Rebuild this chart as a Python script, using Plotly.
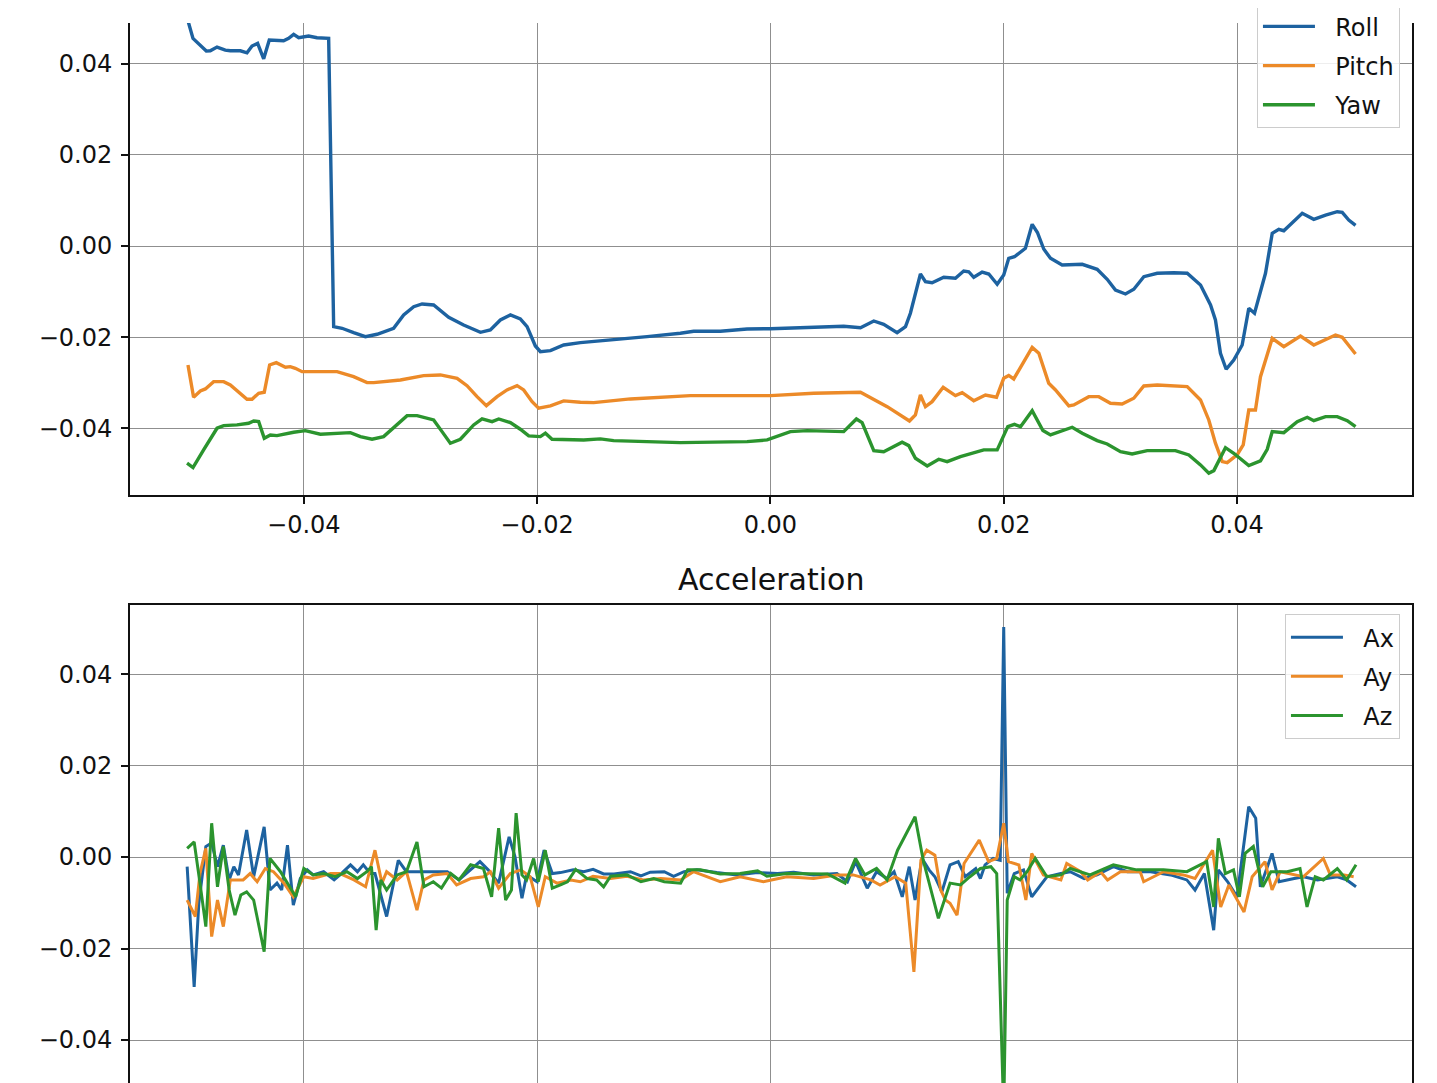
import plotly.graph_objects as go

# ---------------- Orientation (top panel) ----------------
roll_x = [-0.0500, -0.04950, -0.04836, -0.04802, -0.04744, -0.04673, -0.04630, -0.04544, -0.04487, -0.04444,
          -0.04396, -0.04344, -0.04296, -0.04230, -0.04173, -0.04130, -0.04087, -0.04044, -0.03959, -0.03887,
          -0.03787, -0.03744, -0.03672, -0.03573, -0.03472, -0.03372, -0.03230, -0.03144, -0.03058, -0.02986,
          -0.02887, -0.02758, -0.02630, -0.02486, -0.02401, -0.02315, -0.02229, -0.02144, -0.02086, -0.02015,
          -0.01972, -0.01886, -0.01772, -0.01629, -0.01344, -0.01057, -0.00772, -0.00658, -0.00429, -0.00200,
          0.0, 0.00229, 0.00457, 0.00628, 0.00772, 0.00886, 0.00971, 0.01086, 0.01158, 0.01200,
          0.01286, 0.01329, 0.01386, 0.01486, 0.01586, 0.01657, 0.01700, 0.01743, 0.01815, 0.01872,
          0.01944, 0.02000, 0.02043, 0.02092, 0.02186, 0.02244, 0.02289, 0.02343, 0.02401, 0.02501,
          0.02673, 0.02801, 0.02887, 0.02958, 0.03044, 0.03115, 0.03201, 0.03316, 0.03458, 0.03573,
          0.03687, 0.03773, 0.03815, 0.03858, 0.03907, 0.03972, 0.04044, 0.04101, 0.04150, 0.04244,
          0.04302, 0.04358, 0.04401, 0.04473, 0.04559, 0.04658, 0.04759, 0.04859, 0.04902, 0.04958,
          0.05016]
roll = [0.0500, 0.04552, 0.04274, 0.04281, 0.04362, 0.04296, 0.04281, 0.04281, 0.04237, 0.04384,
        0.04443, 0.04105, 0.04515, 0.04515, 0.04500, 0.04552, 0.04640, 0.04566, 0.04603, 0.04566,
        0.04552, -0.01769, -0.01804, -0.01900, -0.01988, -0.01935, -0.01804, -0.01512, -0.01330, -0.01271,
        -0.01293, -0.01563, -0.01732, -0.01892, -0.01841, -0.01622, -0.01512, -0.01600, -0.01769, -0.02192,
        -0.02317, -0.02295, -0.02170, -0.02119, -0.02060, -0.01988, -0.01913, -0.01870, -0.01870, -0.01819,
        -0.01813, -0.01791, -0.01760, -0.01760, -0.01791, -0.01644, -0.01716, -0.01900, -0.01769, -0.01475,
        -0.00614, -0.00782, -0.00804, -0.00686, -0.00708, -0.00548, -0.00564, -0.00686, -0.00570, -0.00614,
        -0.00839, -0.00636, -0.00270, -0.00235, -0.00050, 0.00476, 0.00296, -0.00066, -0.00270, -0.00416,
        -0.00401, -0.00511, -0.00730, -0.00964, -0.01052, -0.00949, -0.00673, -0.00598, -0.00585, -0.00598,
        -0.00855, -0.01293, -0.01622, -0.02352, -0.02702, -0.02499, -0.02170, -0.01365, -0.01475, -0.00598,
        0.00278, 0.00366, 0.00335, 0.00498, 0.00717, 0.00585, 0.00679, 0.00752, 0.00739, 0.00570,
        0.00454]

pitch_x = [-0.04993, -0.04945, -0.04887, -0.04844, -0.04773, -0.04687, -0.04630, -0.04487, -0.04444, -0.04387,
           -0.04339, -0.04293, -0.04236, -0.04158, -0.04116, -0.04073, -0.04015, -0.03715, -0.03573, -0.03458,
           -0.03401, -0.03286, -0.03172, -0.02973, -0.02829, -0.02686, -0.02601, -0.02515, -0.02435, -0.02343,
           -0.02258, -0.02172, -0.02115, -0.02043, -0.01987, -0.01886, -0.01772, -0.01629, -0.01515, -0.01200,
           -0.00686, 0.0, 0.00371, 0.00772, 0.01001, 0.01192, 0.01243, 0.01286, 0.01329, 0.01386,
           0.01481, 0.01586, 0.01644, 0.01743, 0.01843, 0.01938, 0.02000, 0.02043, 0.02086, 0.02244,
           0.02301, 0.02386, 0.02444, 0.02558, 0.02601, 0.02729, 0.02815, 0.02915, 0.03015, 0.03115,
           0.03201, 0.03316, 0.03573, 0.03687, 0.03758, 0.03815, 0.03873, 0.03916, 0.04001, 0.04053,
           0.04101, 0.04158, 0.04201, 0.04302, 0.04401, 0.04544, 0.04658, 0.04844, 0.04902, 0.05016]
pitch = [-0.02608, -0.03316, -0.03178, -0.03134, -0.02974, -0.02974, -0.03047, -0.03360, -0.03360, -0.03228,
         -0.03207, -0.02608, -0.02558, -0.02659, -0.02645, -0.02681, -0.02755, -0.02755, -0.02865, -0.02996,
         -0.02996, -0.02965, -0.02937, -0.02843, -0.02827, -0.02900, -0.03062, -0.03303, -0.03500, -0.03303,
         -0.03156, -0.03062, -0.03156, -0.03413, -0.03557, -0.03507, -0.03397, -0.03426, -0.03434, -0.03353,
         -0.03281, -0.03281, -0.03228, -0.03207, -0.03522, -0.03836, -0.03704, -0.03266, -0.03522, -0.03413,
         -0.03097, -0.03281, -0.03215, -0.03391, -0.03266, -0.03316, -0.02900, -0.02838, -0.02915, -0.02225,
         -0.02352, -0.03009, -0.03156, -0.03507, -0.03485, -0.03303, -0.03303, -0.03448, -0.03463, -0.03338,
         -0.03069, -0.03047, -0.03084, -0.03375, -0.03814, -0.04324, -0.04728, -0.04750, -0.04581, -0.04362,
         -0.03595, -0.03595, -0.02865, -0.02023, -0.02207, -0.01973, -0.02170, -0.01951, -0.02001, -0.02367]

yaw_x = [-0.05001, -0.04950, -0.04859, -0.04744, -0.04687, -0.04573, -0.04473, -0.04430, -0.04387, -0.04339,
         -0.04287, -0.04230, -0.04087, -0.03987, -0.03858, -0.03601, -0.03515, -0.03415, -0.03316, -0.03201,
         -0.03115, -0.03029, -0.02887, -0.02815, -0.02744, -0.02658, -0.02544, -0.02472, -0.02386, -0.02329,
         -0.02229, -0.02144, -0.02072, -0.01972, -0.01929, -0.01872, -0.01715, -0.01601, -0.01458, -0.01344,
         -0.00772, -0.00200, -0.00028, 0.00171, 0.00315, 0.00628, 0.00737, 0.00786, 0.00886, 0.00971,
         0.01129, 0.01186, 0.01243, 0.01344, 0.01443, 0.01515, 0.01629, 0.01829, 0.01944, 0.02035,
         0.02092, 0.02144, 0.02244, 0.02336, 0.02401, 0.02587, 0.02673, 0.02801, 0.02887, 0.03001,
         0.03101, 0.03230, 0.03472, 0.03587, 0.03687, 0.03758, 0.03801, 0.03901, 0.03972, 0.04101,
         0.04201, 0.04259, 0.04302, 0.04401, 0.04516, 0.04602, 0.04658, 0.04759, 0.04859, 0.04945,
         0.05016]
yaw = [-0.04763, -0.04859, -0.04471, -0.03996, -0.03939, -0.03923, -0.03886, -0.03836, -0.03851, -0.04215,
       -0.04143, -0.04158, -0.04083, -0.04048, -0.04127, -0.04092, -0.04180, -0.04237, -0.04180, -0.03923,
       -0.03719, -0.03719, -0.03814, -0.04070, -0.04324, -0.04237, -0.03923, -0.03792, -0.03851, -0.03792,
       -0.03873, -0.04018, -0.04164, -0.04180, -0.04105, -0.04237, -0.04237, -0.04252, -0.04230, -0.04267,
       -0.04311, -0.04289, -0.04252, -0.04070, -0.04048, -0.04070, -0.03792, -0.03873, -0.04487, -0.04509,
       -0.04303, -0.04377, -0.04653, -0.04822, -0.04675, -0.04728, -0.04618, -0.04471, -0.04471, -0.03961,
       -0.03912, -0.03961, -0.03610, -0.04044, -0.04143, -0.03974, -0.04105, -0.04267, -0.04340, -0.04509,
       -0.04559, -0.04487, -0.04487, -0.04581, -0.04800, -0.04982, -0.04925, -0.04421, -0.04544, -0.04815,
       -0.04712, -0.04456, -0.04070, -0.04092, -0.03851, -0.03755, -0.03829, -0.03741, -0.03741, -0.03829,
       -0.03961]

# ---------------- Acceleration (bottom panel) ----------------
ax_x = [-0.0500, -0.0494, -0.0490, -0.0484, -0.0479, -0.0474, -0.0469, -0.0464, -0.0460, -0.0456,
        -0.0449, -0.0443, -0.0434, -0.0429, -0.0423, -0.0419, -0.0414, -0.0409, -0.0403, -0.0397,
        -0.0392, -0.0383, -0.0374, -0.0369, -0.0360, -0.0354, -0.0349, -0.0343, -0.0339, -0.0329,
        -0.0319, -0.0312, -0.0286, -0.0277, -0.0267, -0.0257, -0.0249, -0.0242, -0.0233, -0.0224,
        -0.0219, -0.0213, -0.0209, -0.0200, -0.0194, -0.0187, -0.0180, -0.0169, -0.0160, -0.0152,
        -0.0143, -0.0134, -0.0120, -0.0111, -0.0103, -0.0091, -0.0083, -0.0074, -0.0063, -0.0046,
        -0.0029, -0.0011, 0.0006, 0.0020, 0.0037, 0.0057, 0.0066, 0.0073, 0.0083, 0.0091,
        0.0100, 0.0106, 0.0113, 0.0119, 0.0124, 0.0130, 0.0136, 0.0141, 0.0147, 0.0154,
        0.0161, 0.0167, 0.0176, 0.0180, 0.0184, 0.0191, 0.0197, 0.0200, 0.0203, 0.0209,
        0.0217, 0.0224, 0.0237, 0.0249, 0.0257, 0.0269, 0.0280, 0.0294, 0.0306, 0.0326,
        0.0343, 0.0357, 0.0364, 0.0372, 0.0380, 0.0384, 0.0392, 0.0400, 0.0410, 0.0416,
        0.0420, 0.0430, 0.0436, 0.0449, 0.0457, 0.0469, 0.0486, 0.0494, 0.0502]
ax_vals = [-0.0021, -0.0284, -0.0101, 0.0023, 0.0031, -0.0021, 0.0026, -0.0050, -0.0021, -0.0039,
           0.0059, -0.0043, 0.0066, -0.0072, -0.0057, -0.0072, 0.0026, -0.0105, -0.0047, -0.0028,
           -0.0039, -0.0032, -0.0050, -0.0039, -0.0017, -0.0032, -0.0017, -0.0036, -0.0036, -0.0130,
           -0.0007, -0.0032, -0.0032, -0.0032, -0.0050, -0.0028, -0.0010, -0.0028, -0.0057, 0.0044,
           0.0001, -0.0090, -0.0039, -0.0054, 0.0015, -0.0036, -0.0034, -0.0028, -0.0032, -0.0027,
           -0.0037, -0.0037, -0.0032, -0.0041, -0.0033, -0.0032, -0.0042, -0.0032, -0.0028, -0.0034,
           -0.0039, -0.0034, -0.0036, -0.0033, -0.0039, -0.0036, -0.0054, -0.0010, -0.0068, -0.0032,
           -0.0047, -0.0032, -0.0087, -0.0021, -0.0094, -0.0003, -0.0028, -0.0043, -0.0076, -0.0017,
           -0.0010, -0.0043, -0.0025, -0.0047, -0.0017, -0.0003, -0.0007, 0.0503, -0.0079, -0.0036,
           -0.0028, -0.0087, -0.0043, -0.0036, -0.0032, -0.0047, -0.0039, -0.0021, -0.0032, -0.0032,
           -0.0039, -0.0050, -0.0072, -0.0036, -0.0160, -0.0028, -0.0054, -0.0087, 0.0110, 0.0085,
           -0.0065, 0.0008, -0.0054, -0.0047, -0.0043, -0.0050, -0.0043, -0.0050, -0.0065]

ay_x = [-0.0500, -0.0493, -0.0489, -0.0484, -0.0479, -0.0474, -0.0469, -0.0463, -0.0456, -0.0452,
        -0.0446, -0.0440, -0.0433, -0.0426, -0.0417, -0.0409, -0.0400, -0.0392, -0.0377, -0.0369,
        -0.0357, -0.0347, -0.0339, -0.0333, -0.0329, -0.0320, -0.0312, -0.0303, -0.0297, -0.0289,
        -0.0277, -0.0269, -0.0257, -0.0246, -0.0240, -0.0233, -0.0223, -0.0214, -0.0206, -0.0199,
        -0.0193, -0.0183, -0.0171, -0.0163, -0.0152, -0.0137, -0.0123, -0.0109, -0.0094, -0.0077,
        -0.0066, -0.0043, -0.0026, -0.0006, 0.0014, 0.0037, 0.0057, 0.0071, 0.0086, 0.0094,
        0.0107, 0.0116, 0.0123, 0.0129, 0.0134, 0.0141, 0.0146, 0.0150, 0.0154, 0.0160,
        0.0166, 0.0179, 0.0187, 0.0194, 0.0200, 0.0204, 0.0213, 0.0219, 0.0224, 0.0229,
        0.0234, 0.0249, 0.0254, 0.0266, 0.0272, 0.0283, 0.0289, 0.0300, 0.0317, 0.0320,
        0.0337, 0.0354, 0.0364, 0.0379, 0.0386, 0.0393, 0.0406, 0.0413, 0.0424, 0.0430,
        0.0437, 0.0457, 0.0466, 0.0474, 0.0480, 0.0492, 0.0500]
ay_vals = [-0.0094, -0.0130, -0.0036, 0.0019, -0.0174, -0.0094, -0.0152, -0.0050, -0.0050, -0.0050,
           -0.0036, -0.0054, -0.0025, -0.0032, -0.0057, -0.0087, -0.0043, -0.0047, -0.0036, -0.0036,
           -0.0050, -0.0065, 0.0015, -0.0057, -0.0032, -0.0050, -0.0032, -0.0116, -0.0050, -0.0039,
           -0.0036, -0.0061, -0.0047, -0.0043, -0.0032, -0.0068, -0.0036, -0.0028, -0.0043, -0.0109,
           -0.0043, -0.0057, -0.0050, -0.0054, -0.0042, -0.0047, -0.0042, -0.0050, -0.0047, -0.0050,
           -0.0032, -0.0054, -0.0043, -0.0054, -0.0043, -0.0047, -0.0039, -0.0039, -0.0050, -0.0061,
           -0.0043, -0.0057, -0.0251, -0.0007, 0.0015, 0.0004, -0.0072, -0.0094, -0.0101, -0.0127,
           -0.0014, 0.0037, -0.0010, -0.0003, 0.0074, -0.0010, -0.0017, -0.0094, 0.0008, -0.0017,
           -0.0039, -0.0050, -0.0014, -0.0032, -0.0050, -0.0032, -0.0050, -0.0032, -0.0032, -0.0054,
           -0.0032, -0.0039, -0.0047, 0.0015, -0.0109, -0.0061, -0.0120, -0.0043, -0.0010, -0.0072,
           -0.0032, -0.0043, -0.0021, -0.0003, -0.0039, -0.0039, -0.0043]

az_x = [-0.0500, -0.0494, -0.0489, -0.0484, -0.0479, -0.0474, -0.0469, -0.0464, -0.0459, -0.0454,
        -0.0449, -0.0443, -0.0434, -0.0429, -0.0420, -0.0412, -0.0407, -0.0400, -0.0392, -0.0383,
        -0.0373, -0.0363, -0.0354, -0.0346, -0.0342, -0.0338, -0.0334, -0.0329, -0.0320, -0.0312,
        -0.0303, -0.0297, -0.0289, -0.0282, -0.0274, -0.0267, -0.0257, -0.0246, -0.0239, -0.0233,
        -0.0227, -0.0222, -0.0218, -0.0213, -0.0209, -0.0203, -0.0199, -0.0193, -0.0187, -0.0180,
        -0.0174, -0.0167, -0.0157, -0.0149, -0.0143, -0.0137, -0.0123, -0.0111, -0.0100, -0.0091,
        -0.0077, -0.0071, -0.0060, -0.0043, -0.0026, -0.0011, -0.0003, 0.0014, 0.0031, 0.0049,
        0.0064, 0.0073, 0.0081, 0.0091, 0.0100, 0.0109, 0.0124, 0.0131, 0.0144, 0.0154,
        0.0163, 0.0171, 0.0180, 0.0189, 0.0194, 0.0200, 0.0203, 0.0209, 0.0214, 0.0220,
        0.0227, 0.0237, 0.0249, 0.0257, 0.0274, 0.0294, 0.0314, 0.0337, 0.0357, 0.0374,
        0.0380, 0.0384, 0.0390, 0.0397, 0.0402, 0.0407, 0.0414, 0.0422, 0.0429, 0.0443,
        0.0454, 0.0460, 0.0467, 0.0474, 0.0486, 0.0494, 0.0502]
az_vals = [0.0019, 0.0033, -0.0057, -0.0152, 0.0074, -0.0065, 0.0023, -0.0072, -0.0127, -0.0083,
           -0.0076, -0.0094, -0.0207, -0.0003, -0.0032, -0.0065, -0.0087, -0.0025, -0.0039, -0.0036,
           -0.0043, -0.0032, -0.0047, -0.0032, -0.0021, -0.0160, -0.0050, -0.0072, -0.0039, -0.0032,
           0.0033, -0.0065, -0.0054, -0.0068, -0.0036, -0.0050, -0.0017, -0.0025, -0.0087, 0.0063,
           -0.0094, -0.0072, 0.0096, -0.0039, -0.0050, -0.0003, -0.0054, 0.0015, -0.0068, -0.0061,
           -0.0054, -0.0027, -0.0047, -0.0050, -0.0065, -0.0042, -0.0039, -0.0054, -0.0047, -0.0054,
           -0.0057, -0.0028, -0.0028, -0.0037, -0.0036, -0.0030, -0.0042, -0.0036, -0.0037, -0.0037,
           -0.0057, -0.0003, -0.0039, -0.0025, -0.0050, 0.0015, 0.0088, -0.0007, -0.0134, -0.0057,
           -0.0061, -0.0043, -0.0025, -0.0021, -0.0036, -0.0560, -0.0094, -0.0043, -0.0050, -0.0032,
           -0.0003, -0.0043, -0.0039, -0.0025, -0.0039, -0.0017, -0.0028, -0.0028, -0.0032, -0.0010,
           -0.0109, 0.0041, -0.0036, -0.0028, -0.0087, 0.0008, 0.0023, -0.0065, -0.0032, -0.0032,
           -0.0025, -0.0109, -0.0043, -0.0050, -0.0025, -0.0050, -0.0017]

tick_vals = [-0.04, -0.02, 0.0, 0.02, 0.04]
tick_text = ["\u22120.04", "\u22120.02", "0.00", "0.02", "0.04"]
bottom_title = "Acceleration"
top_names = ["Roll", "Pitch", "Yaw"]
bottom_names = ["Ax", "Ay", "Az"]

BLUE = "#1d62a0"
ORANGE = "#ec8a28"
GREEN = "#2b942e"
FONT = "DejaVu Sans"
INK = "#111111"
PAD = "\u00a0\u00a0"  # small gap between legend line sample and label

fig = go.Figure()
for name, xs, ys, c in zip(top_names, [roll_x, pitch_x, yaw_x], [roll, pitch, yaw], [BLUE, ORANGE, GREEN]):
    fig.add_trace(go.Scatter(x=xs, y=ys, mode="lines", name=PAD + name, line=dict(color=c, width=3.4),
                             xaxis="x", yaxis="y", legend="legend", legendgroup="t" + name))
for name, xs, ys, c in zip(bottom_names, [ax_x, ay_x, az_x], [ax_vals, ay_vals, az_vals], [BLUE, ORANGE, GREEN]):
    fig.add_trace(go.Scatter(x=xs, y=ys, mode="lines", name=PAD + name, line=dict(color=c, width=3.0),
                             xaxis="x2", yaxis="y2", legend="legend2", legendgroup="b" + name))

grid = "#8f8f8f"
common_axis = dict(gridcolor=grid, gridwidth=1, zeroline=False, linecolor=INK, linewidth=2,
                   tickfont=dict(family=FONT, size=24, color=INK))
tick_style = dict(ticks="outside", ticklen=7, tickwidth=1.5, tickcolor=INK)

legend_style = dict(xanchor="right", yanchor="top", bgcolor="rgba(255,255,255,0.85)",
                    bordercolor="#cccccc", borderwidth=1, font=dict(family=FONT, size=24, color=INK),
                    itemwidth=52, tracegroupgap=5, traceorder="grouped")

# The page adds an 8px body margin, so the figure is offset by (8, 8).
fig.update_layout(
    width=1437, height=1083,
    margin=dict(l=122, r=33, t=15, b=8, autoexpand=False),
    paper_bgcolor="white", plot_bgcolor="white",
    font=dict(family=FONT, color=INK),
    xaxis=dict(domain=[0, 1], range=[-0.0549, 0.0550], anchor="y", tickvals=tick_vals, ticktext=tick_text,
               showline=True, mirror=False, **tick_style, **common_axis),
    yaxis=dict(domain=[0.5547, 1.0], range=[-0.0546, 0.0489], anchor="x", tickvals=tick_vals, ticktext=tick_text,
               showline=True, mirror=True, ticklabelstandoff=4, **tick_style, **common_axis),
    xaxis2=dict(domain=[0, 1], range=[-0.0549, 0.0550], anchor="y2", tickvals=tick_vals, side="top",
                showticklabels=False, showline=True, mirror=False, ticks="", **common_axis),
    yaxis2=dict(domain=[0.0, 0.4509], range=[-0.0494, 0.0551], anchor="x2", tickvals=tick_vals, ticktext=tick_text,
                showline=True, mirror=True, ticklabelstandoff=4, **tick_style, **common_axis),
    legend=dict(x=0.9906, y=1.0186, **legend_style),
    legend2=dict(x=0.9906, y=0.4424, **legend_style),
    annotations=[dict(text=bottom_title, x=0.5, xref="paper", y=0.4509 + 0.0245, yref="paper",
                      yanchor="middle", showarrow=False, font=dict(family=FONT, size=30, color=INK))],
    showlegend=True,
)

fig.write_html("out.html")
